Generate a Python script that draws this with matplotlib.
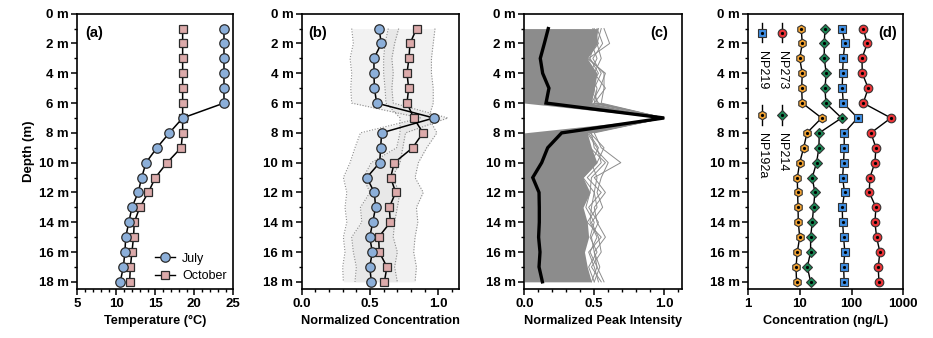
"""Depth profiles: temperature, normalized concentrations, peak intensities, NP concentrations."""

import matplotlib
matplotlib.use("Agg")
import matplotlib.pyplot as plt
from matplotlib.lines import Line2D
from matplotlib.ticker import MultipleLocator

plt.rcParams["font.family"] = ["Liberation Sans", "DejaVu Sans"]

depth = list(range(1, 19))

# (a) temperature
temp_july = [23.8, 23.8, 23.8, 23.8, 23.8, 23.8, 18.5, 16.8, 15.2, 13.8,
             13.25, 12.8, 12.0, 11.6, 11.2, 11.1, 10.9, 10.5]
temp_october = [18.5, 18.5, 18.5, 18.5, 18.5, 18.5, 18.5, 18.5, 18.3, 16.5,
                15.0, 14.1, 13.0, 12.3, 12.2, 12.0, 11.8, 11.7]

# (b) normalized concentration, mean and band edges
nc_july = [0.566, 0.583, 0.529, 0.529, 0.532, 0.549, 0.968, 0.585, 0.578, 0.571,
           0.476, 0.532, 0.541, 0.520, 0.498, 0.517, 0.498, 0.510]
nc_july_lo = [0.366, 0.378, 0.354, 0.366, 0.359, 0.366, 0.87, 0.43, 0.39, 0.354,
              0.305, 0.33, 0.317, 0.33, 0.305, 0.317, 0.30, 0.305]
nc_july_hi = [0.71, 0.68, 0.66, 0.67, 0.66, 0.67, 1.07, 0.76, 0.74, 0.72,
              0.66, 0.72, 0.70, 0.68, 0.67, 0.70, 0.68, 0.70]
nc_october = [0.841, 0.793, 0.785, 0.771, 0.783, 0.771, 0.820, 0.888, 0.812, 0.678,
              0.651, 0.688, 0.641, 0.649, 0.563, 0.568, 0.624, 0.605]
nc_october_lo = [0.634, 0.61, 0.60, 0.60, 0.61, 0.617, 0.72, 0.72, 0.695, 0.51,
                 0.45, 0.50, 0.43, 0.44, 0.366, 0.378, 0.40, 0.39]
nc_october_hi = [0.976, 0.963, 0.95, 0.95, 0.963, 0.963, 0.93, 0.99, 0.915, 0.854,
                 0.83, 0.89, 0.84, 0.85, 0.83, 0.82, 0.84, 0.83]

# (c) normalized peak intensity: dense body, outer traces and mean
pk_lower = [0, 0, 0, 0, 0, 0, 1.0, 0, 0, 0, 0, 0, 0, 0, 0, 0, 0, 0]
pk_body = [0.52, 0.52, 0.45, 0.52, 0.50, 0.48, 1.0, 0.45, 0.48, 0.52,
           0.42, 0.47, 0.42, 0.45, 0.46, 0.43, 0.45, 0.48]
pk_traces = [
    [0.57, 0.61, 0.46, 0.57, 0.57, 0.55, 1.0, 0.50, 0.55, 0.69,
     0.50, 0.58, 0.50, 0.52, 0.58, 0.50, 0.52, 0.57],
    [0.55, 0.52, 0.55, 0.50, 0.58, 0.50, 1.0, 0.48, 0.50, 0.60,
     0.55, 0.52, 0.56, 0.48, 0.53, 0.55, 0.48, 0.55],
    [0.52, 0.56, 0.49, 0.55, 0.50, 0.52, 1.0, 0.45, 0.52, 0.55,
     0.45, 0.55, 0.46, 0.53, 0.48, 0.50, 0.54, 0.50],
    [0.49, 0.53, 0.45, 0.58, 0.54, 0.48, 1.0, 0.47, 0.57, 0.52,
     0.42, 0.50, 0.52, 0.45, 0.55, 0.46, 0.50, 0.53],
    [0.50, 0.48, 0.52, 0.47, 0.52, 0.50, 1.0, 0.44, 0.47, 0.58,
     0.48, 0.47, 0.44, 0.50, 0.47, 0.52, 0.46, 0.50],
    [0.53, 0.50, 0.47, 0.53, 0.47, 0.53, 1.0, 0.46, 0.53, 0.48,
     0.52, 0.50, 0.48, 0.47, 0.52, 0.47, 0.52, 0.48],
]
pk_mean = [0.171, 0.143, 0.114, 0.131, 0.176, 0.155, 1.0, 0.267, 0.167, 0.124,
           0.06, 0.105, 0.107, 0.107, 0.102, 0.112, 0.105, 0.129]

# (d) concentrations, ng/L
np192a = [10.6, 11.1, 9.9, 11.1, 10.8, 11.1, 26.3, 13.7, 11.8, 9.9,
          8.9, 9.0, 9.2, 9.3, 9.9, 8.9, 8.4, 8.6]
np214 = [30.5, 29.6, 29.6, 32.3, 30.5, 31.9, 64, 23.7, 23.3, 21.0,
         17.3, 19.5, 18.4, 17.3, 16.1, 16.1, 13.9, 16.1]
np219 = [66, 74, 69, 67, 66, 69, 131, 72, 72, 70,
         67, 73, 66, 67, 70, 74, 70, 72]
np273 = [168, 201, 159, 161, 210, 168, 577, 237, 296, 283,
         226, 220, 296, 283, 305, 353, 328, 338]

BLUE = "#8cafd9"
PINK = "#dcaaaa"
EDGE = "#2b2b2b"

fig = plt.figure(figsize=(9.33, 3.38), dpi=100)
bottom, height = 0.1441, 0.8154
ax_a = fig.add_axes([0.0829, bottom, 0.1672, height])
ax_b = fig.add_axes([0.3234, bottom, 0.1683, height])
ax_c = fig.add_axes([0.5620, bottom, 0.1693, height])
ax_d = fig.add_axes([0.8020, bottom, 0.1661, height])


def style_axis(ax, xlabel):
    ax.set_ylim(18.5, 0)
    ax.set_yticks(range(0, 19, 2))
    ax.set_yticklabels([f"{d} m" for d in range(0, 19, 2)])
    ax.yaxis.set_minor_locator(MultipleLocator(1))
    ax.tick_params(which="major", direction="out", length=4, width=1.1,
                   labelsize=9.5, pad=2)
    ax.tick_params(which="minor", direction="out", length=2.2, width=1.0)
    for sp in ax.spines.values():
        sp.set_linewidth(1.2)
    ax.set_xlabel(xlabel, fontsize=9.2, fontweight="bold", labelpad=4)
    for lab in ax.get_xticklabels() + ax.get_yticklabels():
        lab.set_fontweight("bold")


# (a)
ax_a.plot(temp_october, depth, "-s", color="black", lw=1.1, ms=6.2,
          mfc=PINK, mec=EDGE, mew=0.9)
ax_a.plot(temp_july, depth, "-o", color="black", lw=1.1, ms=6.8,
          mfc=BLUE, mec=EDGE, mew=0.9)
ax_a.set_xlim(5, 25)
ax_a.set_xticks([5, 10, 15, 20, 25])
ax_a.xaxis.set_minor_locator(MultipleLocator(1))
style_axis(ax_a, "Temperature (°C)")
ax_a.set_ylabel("Depth (m)", fontsize=9.5, fontweight="bold", labelpad=3)
handles = [
    Line2D([], [], color="black", lw=1.0, marker="o", ms=6.8, mfc=BLUE,
           mec=EDGE, mew=0.9),
    Line2D([], [], color="black", lw=1.0, marker="s", ms=6.2, mfc=PINK,
           mec=EDGE, mew=0.9),
]
ax_a.legend(handles, ["July", "October"], loc="lower right", frameon=False,
            fontsize=9, handlelength=1.6, handletextpad=0.6,
            bbox_to_anchor=(1.03, -0.015), labelspacing=0.45)
ax_a.text(0.05, 0.93, "(a)", transform=ax_a.transAxes, fontsize=10.5,
          fontweight="bold", ha="left", va="center")

# (b)
for lo, hi in ((nc_july_lo, nc_july_hi), (nc_october_lo, nc_october_hi)):
    ax_b.fill_betweenx(depth, lo, hi, color="#d4d4d4", alpha=0.3, lw=0)
    ax_b.plot(lo, depth, ls=(0, (1, 1.5)), color="#8a8a8a", lw=0.8)
    ax_b.plot(hi, depth, ls=(0, (1, 1.5)), color="#8a8a8a", lw=0.8)
ax_b.plot(nc_october, depth, "-s", color="black", lw=1.1, ms=6.2,
          mfc=PINK, mec=EDGE, mew=0.9)
ax_b.plot(nc_july, depth, "-o", color="black", lw=1.1, ms=6.8,
          mfc=BLUE, mec=EDGE, mew=0.9)
ax_b.set_xlim(0, 1.15)
ax_b.set_xticks([0, 0.5, 1.0])
ax_b.set_xticklabels(["0.0", "0.5", "1.0"])
ax_b.xaxis.set_minor_locator(MultipleLocator(0.1))
style_axis(ax_b, "Normalized Concentration")
ax_b.text(0.04, 0.93, "(b)", transform=ax_b.transAxes, fontsize=10.5,
          fontweight="bold", ha="left", va="center")

# (c)
GREY = "#8c8c8c"
ax_c.fill_betweenx(depth, pk_lower, pk_body, color=GREY, lw=0)
for tr in pk_traces:
    ax_c.plot(tr, depth, color=GREY, lw=0.7)
ax_c.plot(pk_mean, depth, color="black", lw=2.4, solid_joinstyle="miter")
ax_c.set_xlim(0, 1.13)
ax_c.set_xticks([0, 0.5, 1.0])
ax_c.set_xticklabels(["0.0", "0.5", "1.0"])
ax_c.xaxis.set_minor_locator(MultipleLocator(0.1))
style_axis(ax_c, "Normalized Peak Intensity")
ax_c.text(0.91, 0.93, "(c)", transform=ax_c.transAxes, fontsize=10.5,
          fontweight="bold", ha="right", va="center")

# (d)
series_d = [
    ("NP192a", np192a, "h", "#f5a534", 6.2),
    ("NP214", np214, "D", "#1b8a57", 5.0),
    ("NP219", np219, "s", "#3f8fe3", 6.0),
    ("NP273", np273, "o", "#ec3438", 6.2),
]
for name, vals, mk, col, ms in series_d:
    ax_d.plot(vals, depth, "-", color="black", lw=1.0, marker=mk, ms=ms,
              mfc=col, mec="#333333", mew=0.8)
    ax_d.plot(vals, depth, ls="none", marker="o", ms=1.3, color="black")
ax_d.set_xscale("log")
ax_d.set_xlim(1, 1000)
ax_d.set_xticks([1, 10, 100, 1000])
ax_d.set_xticklabels(["1", "10", "100", "1000"])
ax_d.xaxis.set_minor_locator(plt.NullLocator())
style_axis(ax_d, "Concentration (ng/L)")
ax_d.text(0.96, 0.93, "(d)", transform=ax_d.transAxes, fontsize=10.5,
          fontweight="bold", ha="right", va="center")

# rotated legend entries for (d)
legend_pos = {"NP219": (0.086, 0.931), "NP273": (0.215, 0.931),
              "NP192a": (0.086, 0.632), "NP214": (0.215, 0.632)}
for name, vals, mk, col, ms in series_d:
    x, y = legend_pos[name]
    ax_d.plot([x, x], [y - 0.035, y + 0.035], color="black", lw=1.0,
              transform=ax_d.transAxes, clip_on=False)
    ax_d.plot([x], [y], marker=mk, ms=ms, mfc=col, mec="#333333", mew=0.8,
              transform=ax_d.transAxes, clip_on=False)
    ax_d.plot([x], [y], marker="o", ms=1.3, color="black",
              transform=ax_d.transAxes, clip_on=False)
    ax_d.text(x, y - 0.065, name, transform=ax_d.transAxes, rotation=270,
              fontsize=9, ha="center", va="top")

fig.savefig("out.png", dpi=100)
